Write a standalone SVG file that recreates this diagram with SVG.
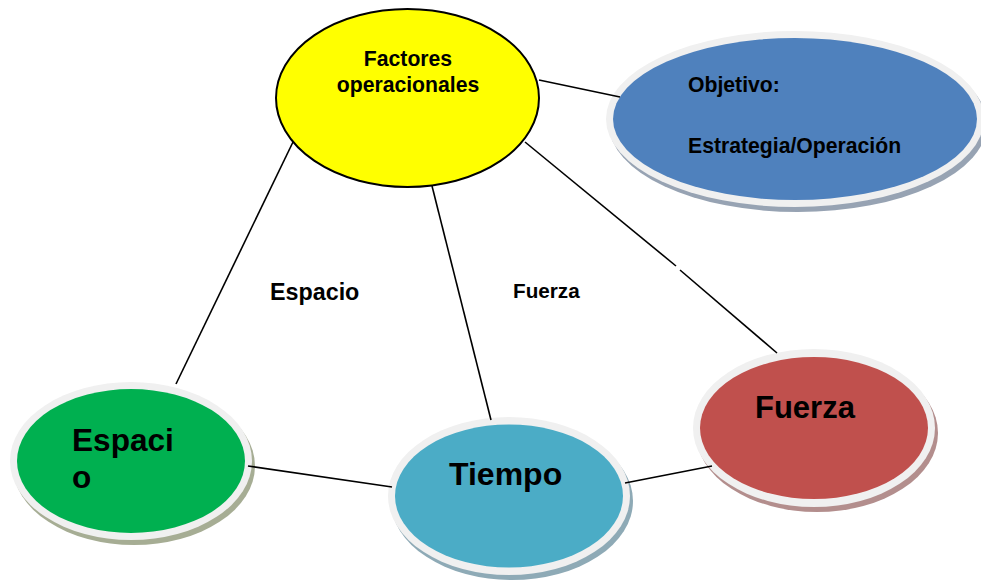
<svg xmlns="http://www.w3.org/2000/svg" width="981" height="581" viewBox="0 0 981 581">
<style>
.t{font-family:"Liberation Sans",Arial,sans-serif;font-weight:bold;fill:#000}
.rim{fill:#f0f0f0}
.ln{stroke:#000;stroke-width:1.6;fill:none}
</style>
<rect width="981" height="581" fill="#fff"/>
<g id="label-espacio"><text class="t" x="270" y="300" font-size="23.3">Espacio</text></g>
<g id="label-fuerza"><text class="t" x="513" y="298" font-size="20.7">Fuerza</text></g>
<g id="node-factores">
<ellipse cx="407.5" cy="98" rx="131.5" ry="89" fill="#ffff00" stroke="#000" stroke-width="2"/>
<text class="t" font-size="21.2" text-anchor="middle"><tspan x="408" y="66">Factores</tspan><tspan x="408" y="92">operacionales</tspan></text>
</g>
<g id="node-objetivo">
<ellipse cx="798" cy="124" rx="189" ry="88" fill="#97a3b3"/>
<ellipse cx="795" cy="119" rx="189" ry="88" class="rim"/>
<ellipse cx="795" cy="119" rx="182" ry="81" fill="#4f81bd"/>
<text class="t" font-size="21.2" x="688" y="92">Objetivo:</text>
<text class="t" font-size="21.2" x="688" y="153">Estrategia/Operación</text>
</g>
<g id="node-espacio">
<ellipse cx="134" cy="466" rx="121" ry="79" fill="#a6ad94"/>
<ellipse cx="131" cy="461" rx="121" ry="79" class="rim"/>
<ellipse cx="131" cy="461" rx="114" ry="72" fill="#00b050"/>
<text class="t" font-size="31.6"><tspan x="72" y="451">Espaci</tspan><tspan x="72" y="488">o</tspan></text>
</g>
<g id="node-tiempo">
<ellipse cx="512" cy="501" rx="121" ry="79" fill="#8eaab6"/>
<ellipse cx="509" cy="496" rx="121" ry="79" class="rim"/>
<ellipse cx="509" cy="496" rx="114" ry="71.5" fill="#4bacc6"/>
<text class="t" font-size="32" x="449" y="485">Tiempo</text>
</g>
<g id="node-fuerza">
<ellipse cx="817" cy="433" rx="121" ry="79" fill="#b38e8d"/>
<ellipse cx="814" cy="428" rx="121" ry="79" class="rim"/>
<ellipse cx="814" cy="428" rx="114" ry="71" fill="#c0504d"/>
<text class="t" font-size="31" x="755" y="418">Fuerza</text>
</g>
<g id="connectors">
<line class="ln" x1="539" y1="80" x2="620" y2="97"/>
<line class="ln" x1="525" y1="142" x2="676" y2="266"/>
<line class="ln" x1="680" y1="270" x2="777" y2="353"/>
<line class="ln" x1="432" y1="186" x2="491" y2="420"/>
<line class="ln" x1="293" y1="142" x2="176" y2="384"/>
<line class="ln" x1="248" y1="466" x2="392" y2="487"/>
<line class="ln" x1="625" y1="483" x2="712" y2="466"/>
</g>
</svg>
